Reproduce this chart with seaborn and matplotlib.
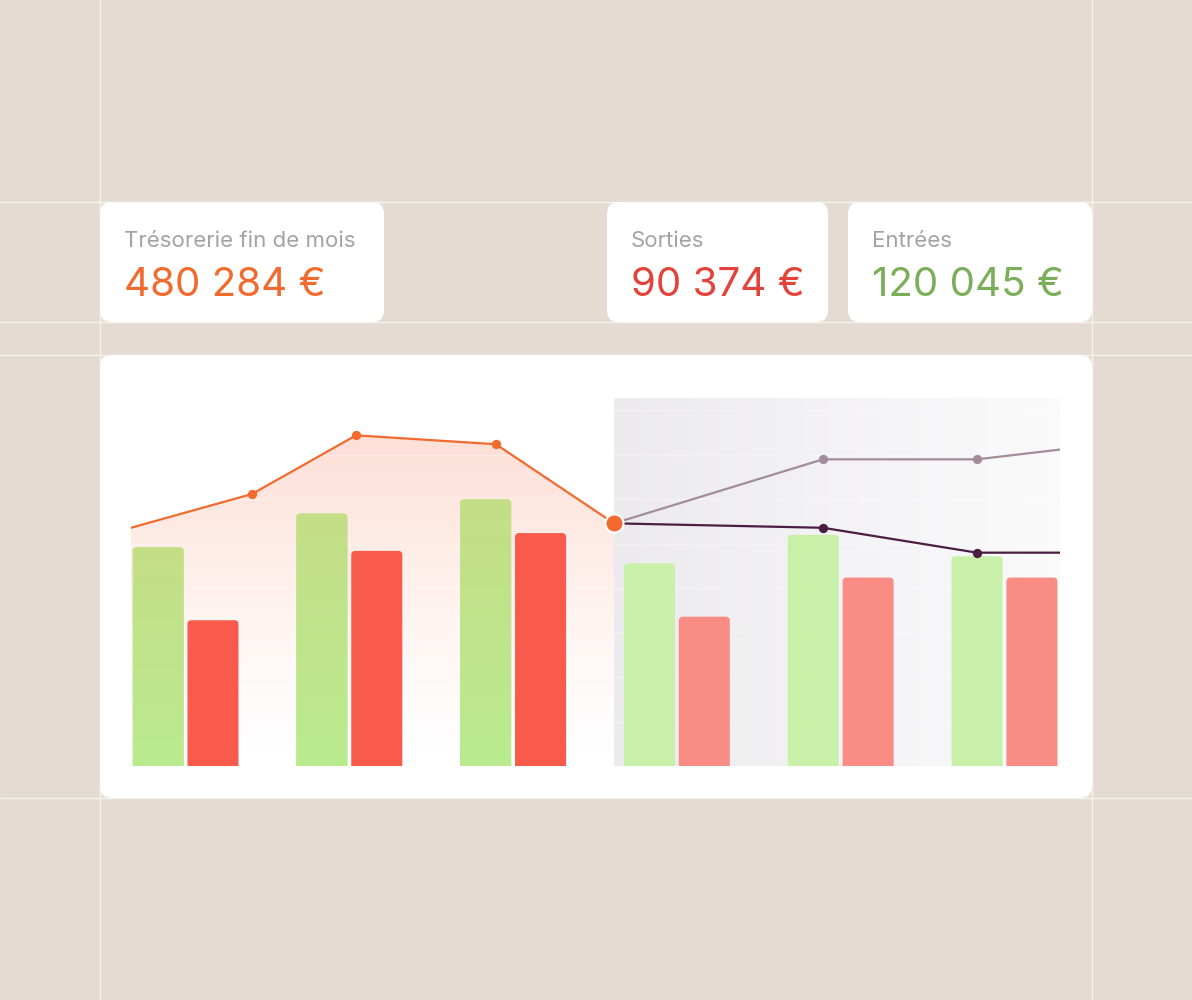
import matplotlib
matplotlib.use("Agg")
import matplotlib.pyplot as plt
from matplotlib.patches import FancyBboxPatch, Polygon
import seaborn as sns
import numpy as np
import pandas as pd

# --- data (k€) ---
months = ["Jan", "Fév", "Mar", "Avr", "Mai", "Juin"]
entrees = [123, 142, 150, 114, 130, 118]
sorties = [82, 121, 131, 84, 106, 106]
forecast_from = 3  # months from index 3 are forecast

# treasury line (position in months, k€)
treso_pos = [-0.333, 0.406, 1.041, 1.895, 2.616]
treso_val = [134, 153, 186, 181, 136.5]
high_pos = [2.616, 3.892, 4.832, 5.339]
high_val = [136.5, 172.5, 172.5, 178]
low_pos = [2.616, 3.892, 4.832, 5.339]
low_val = [136.5, 134, 120, 120]

cards = [("Trésorerie fin de mois", "480 284 €", "#F26A2E"),
         ("Sorties", "90 374 €", "#E3433A"),
         ("Entrées", "120 045 €", "#7BAE59")]

BG = "#E4DCD2"
sns.set_theme(style="white")
plt.rcParams['font.family'] = ['Inter', 'DejaVu Sans']

fig = plt.figure(figsize=(11.92, 10), dpi=100)
fig.patch.set_facecolor(BG)

# background axes in pixel coordinates
bg = fig.add_axes([0, 0, 1, 1])
bg.set_xlim(0, 1192)
bg.set_ylim(1000, 0)
bg.axis("off")
bg.set_facecolor(BG)

for x in [100, 1092]:
    bg.axvline(x, color="#F6F2EE", lw=1, zorder=0)
for y in [202, 322, 355, 798]:
    bg.axhline(y, color="#F6F2EE", lw=1, zorder=0)

card_boxes = [(100, 202, 284, 120), (607, 202, 221, 120), (848, 202, 244, 120)]
for (x, y, w, h), (lab, val, col) in zip(card_boxes, cards):
    bg.add_patch(FancyBboxPatch((x, y), w, h, boxstyle="round,pad=0,rounding_size=12",
                                fc="white", ec="none", zorder=1))
    bg.text(x + 24, y + 45, lab, color="#A3A3A3", fontsize=16, va="baseline", zorder=2)
    bg.text(x + 24, y + 94, val, color=col, fontsize=29, va="baseline", zorder=2)

bg.add_patch(FancyBboxPatch((100, 355), 992, 443, boxstyle="round,pad=0,rounding_size=12",
                            fc="white", ec="none", zorder=1))

# chart axes
ax = fig.add_axes([131 / 1192, 234 / 1000, 929 / 1192, 368 / 1000])
ax.set_facecolor("none")

df = pd.DataFrame({
    "mois": months * 2,
    "type": ["Entrées"] * len(months) + ["Sorties"] * len(months),
    "valeur": entrees + sorties,
})
sns.barplot(data=df, x="mois", y="valeur", hue="type", ax=ax, width=0.67, gap=0.07,
            palette=["#BFE48A", "#F85B4C"], legend=False, zorder=3)
bar_patches = list(ax.patches)

xmin, xmax = -0.333, 5.339
ymax = 207
ax.set_xlim(xmin, xmax)
ax.set_ylim(0, ymax)

# forecast shaded zone
split = treso_pos[-1]
grad = np.linspace(0, 1, 256)[None, :]
c0 = np.array([0.925, 0.918, 0.933])
c1 = np.array([0.985, 0.982, 0.985])
img = c0[None, None, :] * (1 - grad[..., None]) + c1[None, None, :] * grad[..., None]
ax.imshow(img, extent=[split, xmax, 0, ymax], aspect="auto", zorder=0)

# orange gradient under treasury line
vgrad = np.linspace(0, 1, 256)[:, None]
orange = np.zeros((256, 1, 4))
orange[..., 0] = 0.98
orange[..., 1] = 0.48
orange[..., 2] = 0.33
orange[..., 3] = 0.24 * (1 - vgrad) ** 1.3
im2 = ax.imshow(orange, extent=[xmin, split, 0, max(treso_val)], aspect="auto", zorder=1)
poly = Polygon([(treso_pos[0], 0)] + list(zip(treso_pos, treso_val)) + [(treso_pos[-1], 0)],
               closed=True, transform=ax.transData, fc="none", ec="none")
ax.add_patch(poly)
im2.set_clip_path(poly)

# faint grid
for g in range(25, 201, 25):
    ax.axhline(g, color="white", lw=1, alpha=0.3, zorder=2)

# round the bars
ux = 929 / (xmax - xmin)
uy = 368 / ymax
rad = 4 / ux
for p in bar_patches:
    x, w, h = p.get_x(), p.get_width(), p.get_height()
    i = int(round(x + w / 2))
    is_green = (x + w / 2) < i
    p.remove()
    future = i >= forecast_from
    if is_green:
        col = "#C8F0A9" if future else "#BFE48A"
    else:
        col = "#F98C84" if future else "#F85B4C"
    fb = FancyBboxPatch((x, -6), w, h + 6,
                        boxstyle="round,pad=0,rounding_size=%f" % rad,
                        mutation_aspect=ux / uy, fc=col, ec="none", zorder=3)
    ax.add_patch(fb)
    if is_green and not future:
        g = np.linspace(0, 1, 128)[:, None]
        top = np.array([0.77, 0.87, 0.53])
        bot = np.array([0.73, 0.92, 0.56])
        gi = top[None, None, :] * (1 - g[..., None]) + bot[None, None, :] * g[..., None]
        gim = ax.imshow(gi, extent=[x, x + w, 0, h], aspect="auto", zorder=3.5)
        gim.set_clip_path(fb)

ax.set_xlim(xmin, xmax)
ax.set_ylim(0, ymax)

# lines
sns.lineplot(x=treso_pos, y=treso_val, ax=ax, color="#F26A2E", lw=1.6, zorder=5)
ax.scatter(treso_pos[1:-1], treso_val[1:-1], s=45, color="#F26A2E", zorder=6, linewidths=0)
sns.lineplot(x=high_pos, y=high_val, ax=ax, color="#A38C9C", lw=1.6, zorder=5)
ax.scatter(high_pos[1:-1], high_val[1:-1], s=45, color="#A38C9C", zorder=6, linewidths=0)
sns.lineplot(x=low_pos, y=low_val, ax=ax, color="#4B1D42", lw=1.6, zorder=5)
ax.scatter(low_pos[1:-1], low_val[1:-1], s=45, color="#4B1D42", zorder=6, linewidths=0)
ax.scatter([treso_pos[-1]], [treso_val[-1]], s=170, color="#F26A2E", edgecolors="white",
           linewidths=1.5, zorder=7, clip_on=False)

ax.set_xlabel("")
ax.set_ylabel("")
ax.set_xticks([])
ax.set_yticks([])
for s in ax.spines.values():
    s.set_visible(False)

fig.savefig("out.png", dpi=100, facecolor=BG)
